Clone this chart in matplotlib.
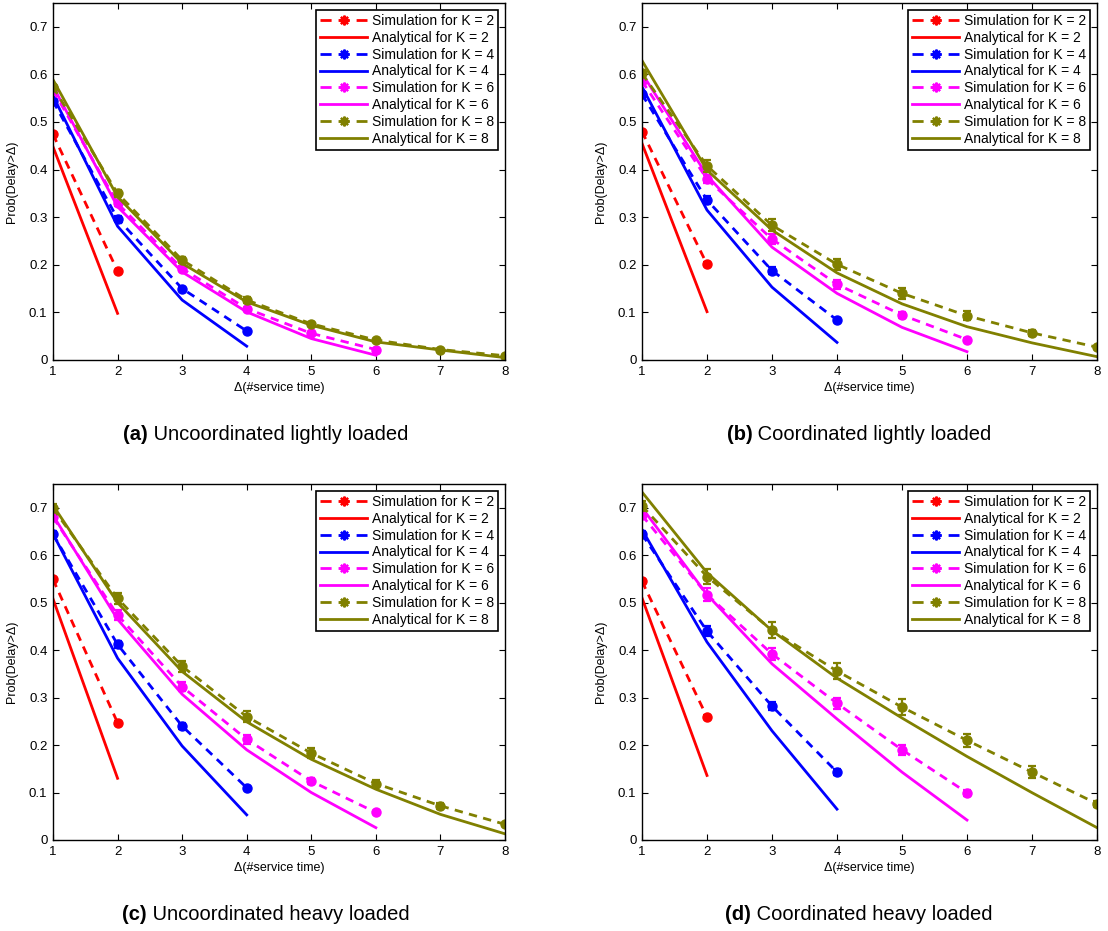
import matplotlib
matplotlib.use('Agg')
import matplotlib.pyplot as plt
from matplotlib.lines import Line2D

plt.rcParams['font.family'] = ['Liberation Sans', 'DejaVu Sans']

K_values = [2, 4, 6, 8]
colors = ['#ff0000', '#0000ff', '#ff00ff', '#808000']
x_ticks = [1, 2, 3, 4, 5, 6, 7, 8]
y_ticks = [0, 0.1, 0.2, 0.3, 0.4, 0.5, 0.6, 0.7]
y_tick_labels = ['0', '0.1', '0.2', '0.3', '0.4', '0.5', '0.6', '0.7']
x_label = 'Δ(#service time)'
y_label = 'Prob(Delay>Δ)'

# (a) Uncoordinated lightly loaded
a_sim = [[0.474, 0.187],
         [0.544, 0.297, 0.150, 0.061],
         [0.567, 0.329, 0.192, 0.108, 0.056, 0.022],
         [0.574, 0.350, 0.210, 0.126, 0.076, 0.042, 0.022, 0.009]]
a_ana = [[0.448, 0.098],
         [0.555, 0.281, 0.126, 0.029],
         [0.575, 0.322, 0.185, 0.101, 0.045, 0.010],
         [0.589, 0.343, 0.203, 0.122, 0.073, 0.038, 0.021, 0.005]]
a_err = [[0.003, 0.003],
         [0.004, 0.005, 0.004, 0.003],
         [0.004, 0.006, 0.005, 0.004, 0.003, 0.002],
         [0.004, 0.007, 0.007, 0.006, 0.004, 0.003, 0.002, 0.001]]

# (b) Coordinated lightly loaded
b_sim = [[0.480, 0.201],
         [0.558, 0.336, 0.188, 0.084],
         [0.586, 0.380, 0.254, 0.159, 0.0945, 0.043],
         [0.602, 0.408, 0.283, 0.201, 0.140, 0.093, 0.057, 0.027]]
b_ana = [[0.455, 0.1015],
         [0.574, 0.315, 0.153, 0.037],
         [0.602, 0.388, 0.237, 0.140, 0.0686, 0.0175],
         [0.629, 0.399, 0.273, 0.183, 0.118, 0.070, 0.036, 0.007]]
b_err = [[0.004, 0.004],
         [0.006, 0.009, 0.007, 0.004],
         [0.006, 0.009, 0.010, 0.010, 0.007, 0.004],
         [0.007, 0.012, 0.013, 0.012, 0.011, 0.009, 0.006, 0.003]]

# (c) Uncoordinated heavy loaded
c_sim = [[0.549, 0.247],
         [0.644, 0.412, 0.240, 0.110],
         [0.680, 0.474, 0.323, 0.212, 0.124, 0.058],
         [0.699, 0.509, 0.366, 0.260, 0.183, 0.119, 0.072, 0.033]]
c_ana = [[0.508, 0.130],
         [0.645, 0.383, 0.198, 0.053],
         [0.684, 0.465, 0.307, 0.190, 0.100, 0.026],
         [0.705, 0.500, 0.355, 0.249, 0.170, 0.107, 0.054, 0.013]]
c_err = [[0.004, 0.004],
         [0.006, 0.008, 0.006, 0.004],
         [0.007, 0.010, 0.010, 0.009, 0.006, 0.004],
         [0.008, 0.012, 0.012, 0.011, 0.010, 0.008, 0.006, 0.003]]

# (d) Coordinated heavy loaded
d_sim = [[0.545, 0.259],
         [0.644, 0.440, 0.282, 0.143],
         [0.684, 0.517, 0.392, 0.288, 0.190, 0.0997],
         [0.704, 0.555, 0.442, 0.356, 0.280, 0.210, 0.143, 0.0765]]
d_ana = [[0.510, 0.136],
         [0.654, 0.417, 0.230, 0.065],
         [0.700, 0.517, 0.371, 0.255, 0.143, 0.042],
         [0.733, 0.563, 0.441, 0.341, 0.257, 0.176, 0.0997, 0.026]]
d_err = [[0.005, 0.005],
         [0.008, 0.010, 0.009, 0.006],
         [0.008, 0.013, 0.012, 0.012, 0.010, 0.006],
         [0.010, 0.016, 0.017, 0.016, 0.016, 0.014, 0.012, 0.006]]

captions = [('(a)', 'Uncoordinated lightly loaded'),
            ('(b)', 'Coordinated lightly loaded'),
            ('(c)', 'Uncoordinated heavy loaded'),
            ('(d)', 'Coordinated heavy loaded')]

W, H = 1108, 931
fig = plt.figure(figsize=(W / 100, H / 100), dpi=100)

# axes boxes in pixels: left, right, top, bottom
boxes = [(53, 505, 3, 360), (642, 1097, 3, 360),
         (53, 505, 484, 840), (642, 1097, 484, 840)]
caption_pos = [(266, 434), (859, 434), (266, 914), (859, 914)]
panels = [(a_sim, a_ana, a_err), (b_sim, b_ana, b_err),
          (c_sim, c_ana, c_err), (d_sim, d_ana, d_err)]

LW = 2.0
DASH = (0, (3.0, 2.3))
LEG_DASH = (0, (4.0, 2.5))
for (l, r, t, b), (sims, anas, errs) in zip(boxes, panels):
    ax = fig.add_axes([l / W, 1 - b / H, (r - l) / W, (b - t) / H])
    handles = []
    for K, col, sim, ana, err in zip(K_values, colors, sims, anas, errs):
        xs = x_ticks[:len(sim)]
        ax.plot(xs, sim, color=col, lw=LW, ls=DASH,
                marker='o', ms=6.5, mfc=col, mec=col)
        ax.errorbar(xs, sim, yerr=err, fmt='none', ecolor=col, elinewidth=1.6,
                    capsize=3, capthick=1.6)
        ln_ana, = ax.plot(x_ticks[:len(ana)], ana, color=col, lw=LW, ls='-')
        h_sim = Line2D([], [], color=col, lw=LW, ls=LEG_DASH,
                       marker=(8, 2, 0), ms=7, mec=col, mew=1.6)
        handles.append((h_sim, 'Simulation for K = %d' % K))
        handles.append((ln_ana, 'Analytical for K = %d' % K))
    ax.set_xlim(1, 8)
    ax.set_ylim(0, 0.75)
    ax.set_xticks(x_ticks)
    ax.set_yticks(y_ticks)
    ax.set_yticklabels(y_tick_labels)
    ax.tick_params(direction='in', top=True, right=True, length=4, width=0.8,
                   labelsize=9.5, pad=4)
    for s in ax.spines.values():
        s.set_linewidth(1.0)
    ax.set_xlabel(x_label, fontsize=9, labelpad=3)
    ax.set_ylabel(y_label, fontsize=9, labelpad=8)
    leg = ax.legend([h for h, _ in handles], [lab for _, lab in handles],
                    loc='upper right', fontsize=10, frameon=True, fancybox=False,
                    edgecolor='black', framealpha=1, borderpad=0.3,
                    labelspacing=0.2, handlelength=3.4, handletextpad=0.3,
                    borderaxespad=0.5, numpoints=1)
    leg.get_frame().set_linewidth(1.2)

# captions: bold label + normal text, centered as a whole
fig.canvas.draw()
renderer = fig.canvas.get_renderer()
for (lab, txt), (cx, cy) in zip(captions, caption_pos):
    t1 = fig.text(0, 1 - cy / H, lab, fontsize=14.5, fontweight='bold',
                  ha='left', va='center')
    t2 = fig.text(0, 1 - cy / H, ' ' + txt, fontsize=14.5, ha='left', va='center')
    w1 = t1.get_window_extent(renderer).width
    w2 = t2.get_window_extent(renderer).width
    x0 = cx - (w1 + w2) / 2
    t1.set_x(x0 / W)
    t2.set_x((x0 + w1) / W)

fig.savefig('out.png', dpi=100)
